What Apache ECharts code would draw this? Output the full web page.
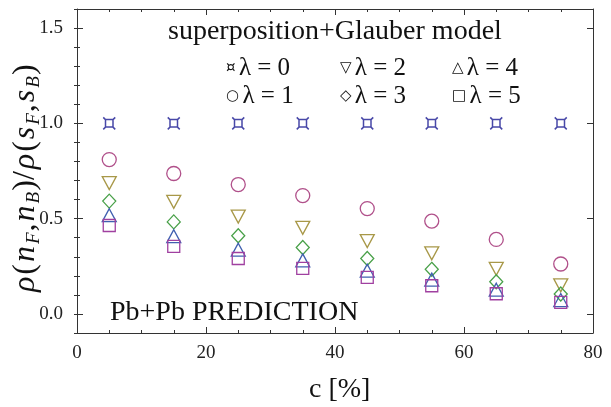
<!DOCTYPE html>
<html>
<head>
<meta charset="utf-8">
<script src="https://cdn.jsdelivr.net/npm/echarts@6/dist/echarts.min.js"></script>
<style>
  html, body { margin: 0; padding: 0; background: #fff; }
  #chart { width: 611px; height: 407px; }
</style>
</head>
<body>
<div id="chart"></div>
<script>
// centrality bins (c in %)
const centrality = [5, 15, 25, 35, 45, 55, 65, 75];
// rho(nF,nB)/rho(sF,sB) for each lambda
const lambda0 = [1.0, 1.0, 1.0, 1.0, 1.0, 1.0, 1.0, 1.0];
const lambda1 = [0.81, 0.737, 0.679, 0.621, 0.553, 0.487, 0.391, 0.262];
const lambda2 = [0.687, 0.588, 0.511, 0.452, 0.382, 0.318, 0.237, 0.15];
const lambda3 = [0.592, 0.483, 0.41, 0.349, 0.291, 0.234, 0.169, 0.105];
const lambda4 = [0.518, 0.408, 0.337, 0.281, 0.227, 0.18, 0.127, 0.073];
const lambda5 = [0.464, 0.354, 0.291, 0.239, 0.192, 0.148, 0.106, 0.061];
const yTicks = [0, 0.5, 1.0, 1.5];

const serif = '"Liberation Serif", "DejaVu Serif", serif';
const frameColor = '#333';

const chart = echarts.init(document.getElementById('chart'));

const pts = (vals) => centrality.map((c, i) => [c, vals[i]]);

const hollow = (name, vals, color, symbol, size, width) => ({
  name: name,
  type: 'scatter',
  data: pts(vals),
  symbol: symbol,
  symbolSize: size,
  symbolKeepAspect: false,
  itemStyle: { color: 'transparent', borderColor: color, borderWidth: width || 1.3, opacity: 1 },
  emphasis: { disabled: true },
  z: 3,
});

const xBase = (position, showLabel) => ({
  type: 'value',
  min: 0,
  max: 80,
  interval: 20,
  position: position,
  axisLine: { show: true, onZero: false, lineStyle: { color: frameColor, width: 1 } },
  axisTick: { show: true, inside: true, length: 6, lineStyle: { color: frameColor } },
  minorTick: { show: true, splitNumber: 4, length: 3, lineStyle: { color: frameColor } },
  axisLabel: {
    show: showLabel,
    margin: 11,
    fontFamily: serif,
    fontSize: 19,
    color: '#222',
    formatter: (v) => String(v),
  },
  splitLine: { show: false },
  minorSplitLine: { show: false },
});

const yMajor = (position, showLabel) => ({
  type: 'value',
  min: -0.1,
  max: 1.6,
  position: position,
  axisLine: { show: true, onZero: false, lineStyle: { color: frameColor, width: 1 } },
  axisTick: { show: true, inside: true, length: 6, customValues: yTicks, lineStyle: { color: frameColor } },
  axisLabel: {
    show: showLabel,
    customValues: yTicks,
    margin: 14,
    fontFamily: serif,
    fontSize: 19,
    color: '#222',
    formatter: (v) => v.toFixed(1),
  },
  splitLine: { show: false },
});

const yMinor = (position) => ({
  type: 'value',
  min: -0.1,
  max: 1.6,
  interval: 0.1,
  position: position,
  axisLine: { show: false },
  axisTick: { show: true, inside: true, length: 3, lineStyle: { color: frameColor } },
  axisLabel: { show: false },
  splitLine: { show: false },
});

// legend key: [symbol glyph, label, x]
const legendRows = [
  { y: 68, items: [['\u00A4', '\u03BB = 0', 226], ['\u25BD', '\u03BB = 2', 340], ['\u25B3', '\u03BB = 4', 452]] },
  { y: 96, items: [['\u25CB', '\u03BB = 1', 226], ['\u25C7', '\u03BB = 3', 340], ['\u25A1', '\u03BB = 5', 452]] },
];

const legendTexts = [];
legendRows.forEach((row) => {
  row.items.forEach(([sym, txt, x]) => {
    legendTexts.push({
      type: 'text',
      x: x,
      y: row.y,
      style: {
        text: '{s|' + sym + '} {t|' + txt + '}',
        verticalAlign: 'middle',
        rich: {
          s: { fontFamily: '"DejaVu Sans", sans-serif', fontSize: 15, fill: '#111', verticalAlign: 'middle', lineHeight: 26 },
          t: { fontFamily: serif, fontSize: 25, fill: '#111', verticalAlign: 'middle', lineHeight: 26 },
        },
      },
    });
  });
});

const labBig = { fontFamily: serif, fontSize: 32, fill: '#111', verticalAlign: 'middle', lineHeight: 34, padding: [0, 2, 0, 0] };

chart.setOption({
  animation: false,
  grid: { left: 77, right: 18, top: 9, bottom: 74, containLabel: false },
  xAxis: [xBase('bottom', true), xBase('top', false)],
  yAxis: [yMajor('left', true), yMinor('left'), yMajor('right', false), yMinor('right')],
  series: [
    hollow('\u03BB = 0', lambda0, '#4848a8',
      'path://M3,3L13,3L13,13L3,13Z M0,0L3,3 M16,0L13,3 M0,16L3,13 M16,16L13,13', 12, 1.5),
    hollow('\u03BB = 1', lambda1, '#b0508a', 'circle', 14),
    hollow('\u03BB = 2', lambda2, '#a89848', 'path://M0,0L20,0L10,18Z', [14, 13]),
    hollow('\u03BB = 3', lambda3, '#48a048', 'diamond', [13, 14]),
    hollow('\u03BB = 4', lambda4, '#4060b0', 'path://M10,0L20,18L0,18Z', [14, 13]),
    hollow('\u03BB = 5', lambda5, '#a040a0', 'rect', 12),
  ],
  graphic: [
    {
      type: 'text',
      x: 168,
      y: 32,
      style: { text: 'superposition+Glauber model', verticalAlign: 'middle', fontFamily: serif, fontSize: 28, fill: '#111' },
    },
    ...legendTexts,
    {
      type: 'text',
      x: 110,
      y: 313,
      style: { text: 'Pb+Pb PREDICTION', verticalAlign: 'middle', fontFamily: serif, fontSize: 28, fill: '#111' },
    },
    {
      type: 'text',
      x: 309,
      y: 390,
      style: { text: 'c [%]', verticalAlign: 'middle', fontFamily: serif, fontSize: 28, fill: '#111' },
    },
    {
      type: 'text',
      x: 9,
      y: 292,
      rotation: Math.PI / 2,
      style: {
        text: '{i|\u03C1}{n|(}{i|n}{s|F}{n|,}{i|n}{s|B}{n|)/}{i|\u03C1}{n|(}{i|s}{s|F}{n|,}{i|s}{s|B}{n|)}',
        rich: {
          i: Object.assign({}, labBig, { fontStyle: 'italic' }),
          n: labBig,
          s: { fontFamily: serif, fontStyle: 'italic', fontSize: 19, fill: '#111', verticalAlign: 'bottom', lineHeight: 20, padding: [0, 1, 0, 0] },
        },
      },
    },
  ],
});
</script>
</body>
</html>
